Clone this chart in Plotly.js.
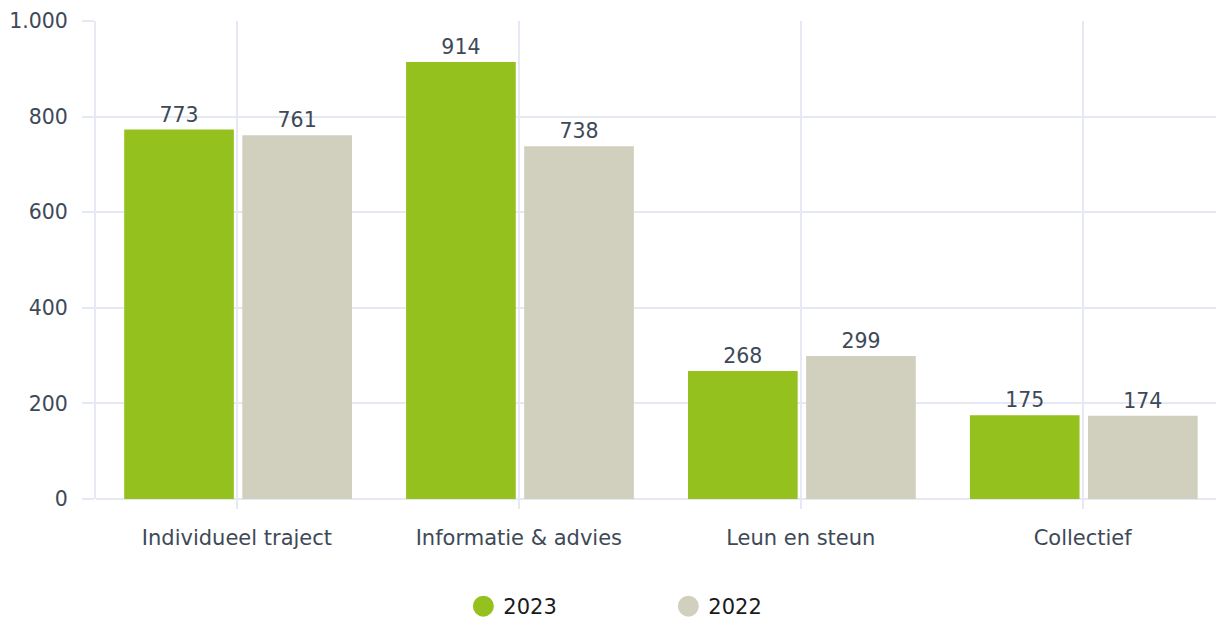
<!DOCTYPE html>
<html>
<head>
<meta charset="utf-8">
<script src="https://cdn.plot.ly/plotly-3.0.1.min.js"></script>
<style>html,body{margin:0;padding:0;background:#fff;}#chart{width:1216px;height:618px;}</style>
</head>
<body>
<div id="chart"></div>
<script>
var categories = ["Individueel traject", "Informatie & advies", "Leun en steun", "Collectief"];
var seriesNames = ["2023", "2022"];
var values2023 = [773, 914, 268, 175];
var values2022 = [761, 738, 299, 174];
var yTicks = [0, 200, 400, 600, 800, 1000];

var green = "#95c11f";
var beige = "#d1d0be";
var textColor = "#3e4957";
var gridColor = "#e6e9f4";
var fontFamily = "DejaVu Sans, sans-serif";

var traces = [
  {
    type: "bar", name: seriesNames[0], x: categories, y: values2023,
    marker: {color: green}, offset: -0.40, width: 0.389,
    text: values2023.map(String), textposition: "outside", cliponaxis: false,
    textfont: {family: fontFamily, size: 20.5, color: textColor},
    showlegend: false, hoverinfo: "x+y"
  },
  {
    type: "bar", name: seriesNames[1], x: categories, y: values2022,
    marker: {color: beige}, offset: 0.019, width: 0.389,
    text: values2022.map(String), textposition: "outside", cliponaxis: false,
    textfont: {family: fontFamily, size: 20.5, color: textColor},
    showlegend: false, hoverinfo: "x+y"
  },
  {
    type: "scatter", mode: "markers", name: seriesNames[0], x: [categories[0]], y: [null],
    marker: {color: green, size: 16, symbol: "circle", line: {color: green, width: 5}},
    showlegend: true, hoverinfo: "skip"
  },
  {
    type: "scatter", mode: "markers", name: seriesNames[1], x: [categories[0]], y: [null],
    marker: {color: beige, size: 16, symbol: "circle", line: {color: beige, width: 5}},
    showlegend: true, hoverinfo: "skip"
  }
];

var layout = {
  width: 1216, height: 618,
  margin: {l: 96, r: 0, t: 21, b: 119, pad: 0, autoexpand: false},
  paper_bgcolor: "#ffffff", plot_bgcolor: "#ffffff",
  separators: ",.",
  font: {family: fontFamily, size: 20, color: textColor},
  barmode: "overlay",
  xaxis: {
    type: "category", range: [-0.5, 3.473],
    showgrid: true, gridcolor: gridColor, gridwidth: 2,
    ticks: "outside", ticklen: 9, tickwidth: 2, tickcolor: gridColor,
    ticklabelstandoff: 11,
    tickfont: {family: fontFamily, size: 21, color: textColor},
    showline: false, zeroline: false, fixedrange: true
  },
  yaxis: {
    range: [0, 1000], tickvals: yTicks, tickformat: ",d",
    showgrid: true, gridcolor: gridColor, gridwidth: 2,
    zeroline: true, zerolinecolor: gridColor, zerolinewidth: 2,
    showline: true, linecolor: gridColor, linewidth: 2,
    ticks: "outside", ticklen: 12, tickwidth: 2, tickcolor: gridColor,
    ticklabelstandoff: 10,
    tickfont: {family: fontFamily, size: 20.5, color: textColor},
    fixedrange: true
  },
  showlegend: true,
  legend: {
    orientation: "h", x: 0.328, xanchor: "left", y: -0.225, yanchor: "middle",
    font: {family: fontFamily, size: 21, color: "#1a1a1a"},
    entrywidth: 160, entrywidthmode: "pixels",
    bgcolor: "rgba(0,0,0,0)", borderwidth: 0
  }
};

Plotly.newPlot("chart", traces, layout, {displayModeBar: false, staticPlot: true});
</script>
</body>
</html>
